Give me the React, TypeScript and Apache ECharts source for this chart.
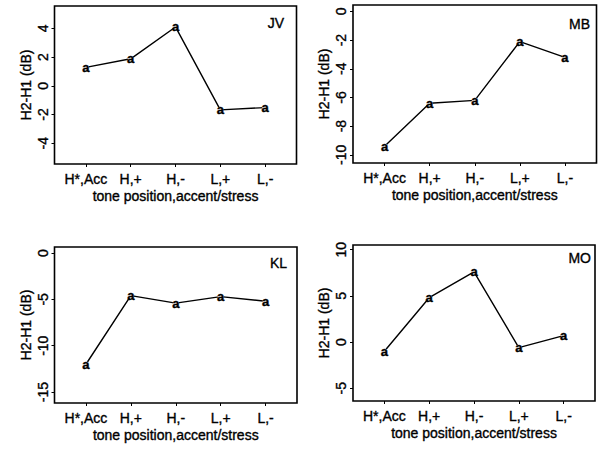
import React, { useEffect, useRef } from "react";
import * as echarts from "echarts";

// Tone positions along the x axis
const categories = ["H*,Acc", "H,+", "H,-", "L,+", "L,-"];

// H2-H1 (dB) per speaker
const speakerJV = [1.28, 1.88, 4.1, -1.68, -1.52];
const speakerMB = [-9.4, -6.4, -6.2, -2.1, -3.2];
const speakerKL = [-12.0, -4.6, -5.4, -4.7, -5.2];
const speakerMO = [-1.0, 4.8, 7.6, -0.6, 0.7];

// Y tick labels per panel
const ticksJV = [-4, -2, 0, 2, 4];
const ticksMB = [-10, -8, -6, -4, -2, 0];
const ticksKL = [-15, -10, -5, 0];
const ticksMO = [-5, 0, 5, 10];

const xTicks = [1, 2, 3, 4, 5];
const FONT = "'Liberation Sans', Arial, Helvetica, sans-serif";

type Panel = {
  name: string;
  values: number[];
  ticks: number[];
  yMin: number;
  yMax: number;
  grid: { left: number; top: number; width: number; height: number };
  tag: { x: number; y: number };
};

const panels: Panel[] = [
  {
    name: "JV",
    values: speakerJV,
    ticks: ticksJV,
    yMin: -5.45,
    yMax: 5.56,
    grid: { left: 54.5, top: 6, width: 242, height: 158 },
    tag: { x: 284, y: 23 },
  },
  {
    name: "MB",
    values: speakerMB,
    ticks: ticksMB,
    yMin: -10.57,
    yMax: 0.45,
    grid: { left: 353, top: 5, width: 243.5, height: 158 },
    tag: { x: 590, y: 24 },
  },
  {
    name: "KL",
    values: speakerKL,
    ticks: ticksKL,
    yMin: -16.18,
    yMax: 0.65,
    grid: { left: 54.5, top: 247, width: 242.5, height: 156 },
    tag: { x: 287, y: 263 },
  },
  {
    name: "MO",
    values: speakerMO,
    ticks: ticksMO,
    yMin: -6.39,
    yMax: 10.51,
    grid: { left: 353, top: 245, width: 242, height: 156 },
    tag: { x: 591, y: 258 },
  },
];

export default function App() {
  const ref = useRef<HTMLDivElement>(null);

  useEffect(() => {
    document.body.style.margin = "0";
    if (!ref.current) return;
    const chart = echarts.init(ref.current, null, { renderer: "svg" });

    // Slight outline gives the heavy, printed look of the labels
    const textBase = {
      color: "#000",
      fontFamily: FONT,
      fontSize: 14,
      textBorderColor: "#000",
      textBorderWidth: 0.35,
    };

    const option: any = {
      animation: false,
      backgroundColor: "#fff",
      grid: panels.map((p) => ({
        ...p.grid,
        show: true,
        borderColor: "#000",
        borderWidth: 1.6,
        backgroundColor: "transparent",
      })),
      xAxis: panels.map((p, i) => ({
        type: "value",
        gridIndex: i,
        position: "bottom",
        min: 0.3,
        max: 5.7,
        axisLine: { show: false, onZero: false },
        splitLine: { show: false },
        axisTick: {
          show: true,
          length: 3,
          customValues: xTicks,
          lineStyle: { color: "#000", width: 1 },
        },
        axisLabel: {
          ...textBase,
          customValues: xTicks,
          margin: 8,
          formatter: (v: number) => categories[Math.round(v) - 1] ?? "",
        },
        name: "tone position,accent/stress",
        nameLocation: "middle",
        nameGap: 25,
        nameTextStyle: { ...textBase },
      })),
      yAxis: panels.map((p, i) => ({
        type: "value",
        gridIndex: i,
        position: "left",
        min: p.yMin,
        max: p.yMax,
        axisLine: { show: false, onZero: false },
        splitLine: { show: false },
        axisTick: {
          show: true,
          length: 3,
          customValues: p.ticks,
          lineStyle: { color: "#000", width: 1 },
        },
        axisLabel: {
          ...textBase,
          customValues: p.ticks,
          rotate: 90,
          margin: 5,
        },
        name: "H2-H1 (dB)",
        nameLocation: "middle",
        nameGap: 22,
        nameRotate: 90,
        nameTextStyle: { ...textBase },
      })),
      series: panels.map((p, i) => ({
        type: "line",
        name: p.name,
        xAxisIndex: i,
        yAxisIndex: i,
        data: p.values.map((v, k) => [xTicks[k], v]),
        lineStyle: { color: "#000", width: 1.4 },
        symbol: "circle",
        symbolSize: 6,
        itemStyle: { color: "#fff", borderWidth: 0 },
        label: {
          show: true,
          position: "inside",
          formatter: "a",
          color: "#000",
          fontFamily: FONT,
          fontSize: 13,
          fontWeight: "bold",
          textBorderColor: "#000",
          textBorderWidth: 0.4,
        },
        emphasis: { disabled: true },
      })),
      graphic: panels.map((p) => ({
        type: "text",
        x: p.tag.x,
        y: p.tag.y,
        style: {
          text: p.name,
          fill: "#000",
          stroke: "#000",
          lineWidth: 0.35,
          font: `14px ${FONT}`,
          align: "right",
          verticalAlign: "middle",
          textAlign: "right",
          textVerticalAlign: "middle",
        },
      })),
    };

    chart.setOption(option);
    return () => chart.dispose();
  }, []);

  return <div ref={ref} style={{ width: 599, height: 449 }} />;
}
